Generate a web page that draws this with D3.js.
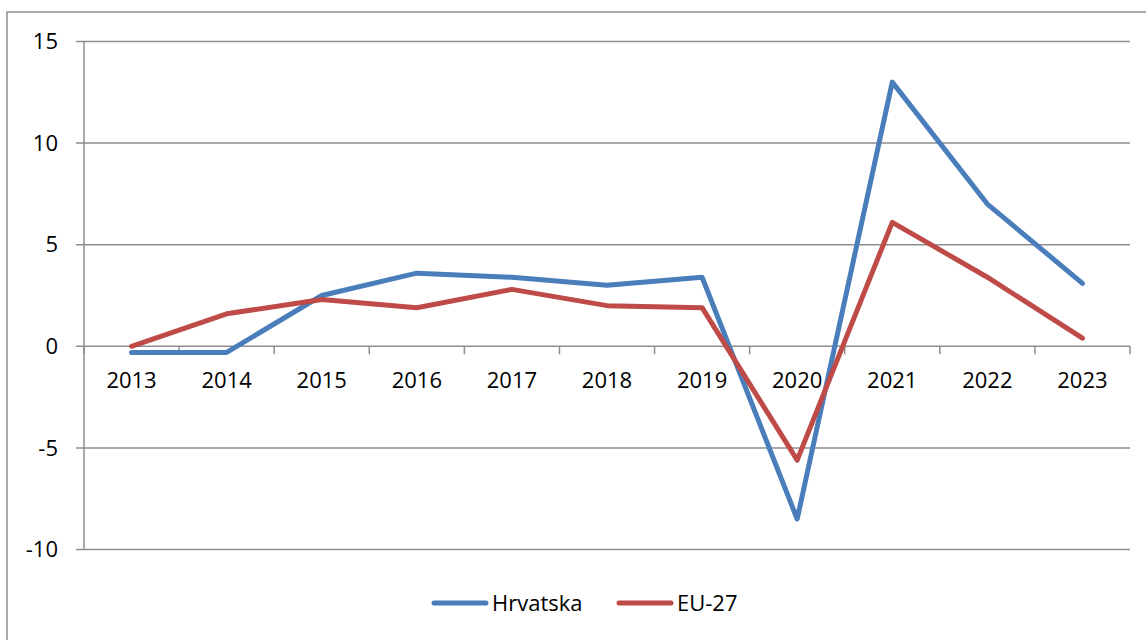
<!DOCTYPE html>
<html>
<head>
<meta charset="utf-8">
<script src="https://cdn.jsdelivr.net/npm/d3@7"></script>
<style>
  body { margin: 0; background: #fff; }
  text { font-family: "Open Sans", sans-serif; fill: #000; }
</style>
</head>
<body>
<div id="chart"></div>
<script>
// line chart, Hrvatska vs EU-27

const years = ['2013', '2014', '2015', '2016', '2017', '2018', '2019', '2020', '2021', '2022', '2023'];
const hrvatska = [-0.3, -0.3, 2.5, 3.6, 3.4, 3.0, 3.4, -8.5, 13.0, 7.0, 3.1];
const eu27 = [0.0, 1.6, 2.3, 1.9, 2.8, 2.0, 1.9, -5.6, 6.1, 3.4, 0.4];
const yTicks = [-10, -5, 0, 5, 10, 15];
const seriesNames = ['Hrvatska', 'EU-27'];

const WIDTH = 1146;
const HEIGHT = 640;
const PLOT = {left: 84, right: 1130, top: 41.5, bottom: 549.5};
const COLORS = ['#4A7EBB', '#BE4B48'];
const GRID = '#8e8e8e';

const svg = d3.select('#chart')
  .append('svg')
    .attr('width', WIDTH)
    .attr('height', HEIGHT);

// outer frame
svg.append('rect')
  .attr('x', 7).attr('y', 12)
  .attr('width', WIDTH + 10).attr('height', HEIGHT + 10)
  .attr('fill', 'none')
  .attr('stroke', GRID)
  .attr('stroke-width', 1.5);

const x = d3.scaleBand()
  .domain(years)
  .range([PLOT.left, PLOT.right]);

const y = d3.scaleLinear()
  .domain([-10, 15])
  .range([PLOT.bottom, PLOT.top]);

// horizontal gridlines + left tick marks
svg.append('g')
  .selectAll('line')
  .data(yTicks)
  .join('line')
    .attr('x1', PLOT.left - 8)
    .attr('x2', PLOT.right)
    .attr('y1', d => y(d))
    .attr('y2', d => y(d))
    .attr('stroke', GRID)
    .attr('stroke-width', 1.5);

// y axis line
svg.append('line')
  .attr('x1', PLOT.left).attr('x2', PLOT.left)
  .attr('y1', PLOT.top).attr('y2', PLOT.bottom)
  .attr('stroke', GRID)
  .attr('stroke-width', 1.5);

// y labels
svg.append('g')
  .selectAll('text')
  .data(yTicks)
  .join('text')
    .attr('x', 58)
    .attr('y', d => y(d))
    .attr('dy', '0.35em')
    .attr('text-anchor', 'end')
    .attr('font-size', '22px')
    .text(d => d);

// category tick marks on the zero line
const bounds = years.map(d => x(d)).concat([x(years[years.length - 1]) + x.bandwidth()]);
svg.append('g')
  .selectAll('line')
  .data(bounds)
  .join('line')
    .attr('x1', d => d).attr('x2', d => d)
    .attr('y1', y(0)).attr('y2', y(0) + 8)
    .attr('stroke', GRID)
    .attr('stroke-width', 1.5);

// category labels
svg.append('g')
  .selectAll('text')
  .data(years)
  .join('text')
    .attr('x', d => x(d) + x.bandwidth() / 2)
    .attr('y', y(0) + 42)
    .attr('text-anchor', 'middle')
    .attr('font-size', '22px')
    .text(d => d);

// series lines
const line = d3.line()
  .x((d, i) => x(years[i]) + x.bandwidth() / 2)
  .y(d => y(d));

[hrvatska, eu27].forEach((vals, i) => {
  svg.append('path')
    .datum(vals)
    .attr('d', line)
    .attr('fill', 'none')
    .attr('stroke', COLORS[i])
    .attr('stroke-width', 5)
    .attr('stroke-linejoin', 'round')
    .attr('stroke-linecap', 'round');
});

// legend
const legend = svg.append('g');
const legX = [434, 619];
seriesNames.forEach((name, i) => {
  legend.append('line')
    .attr('x1', legX[i]).attr('x2', legX[i] + 52)
    .attr('y1', 603).attr('y2', 603)
    .attr('stroke', COLORS[i])
    .attr('stroke-width', 5)
    .attr('stroke-linecap', 'round');
  legend.append('text')
    .attr('x', legX[i] + 58)
    .attr('y', 603)
    .attr('dy', '0.35em')
    .attr('font-size', '22px')
    .text(name);
});
</script>
</body>
</html>
